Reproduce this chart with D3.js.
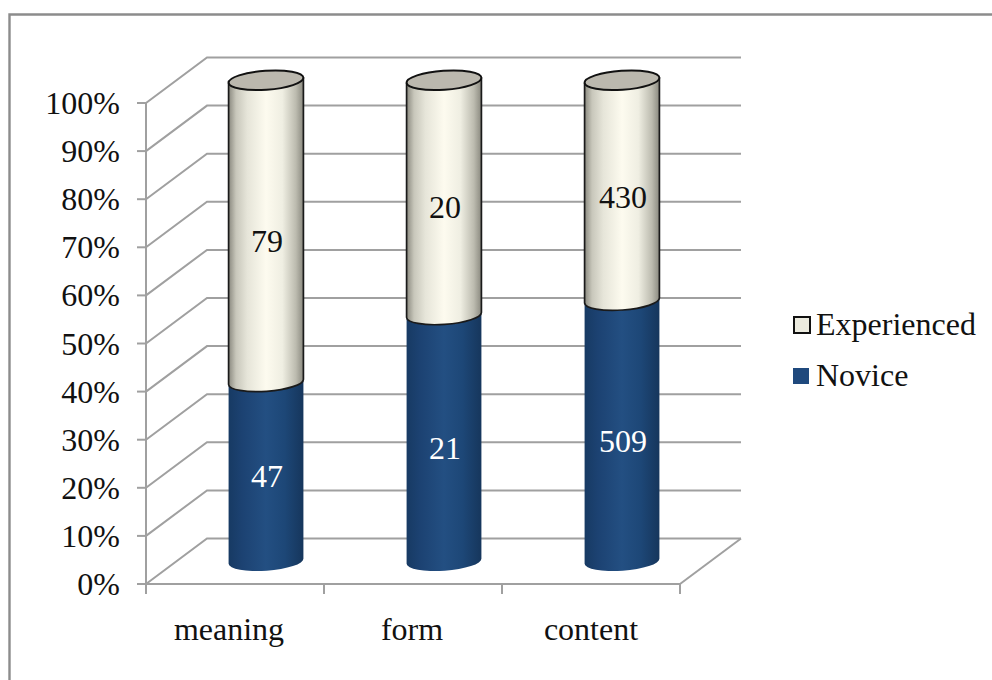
<!DOCTYPE html>
<html>
<head>
<meta charset="utf-8">
<script src="https://cdn.jsdelivr.net/npm/d3@7"></script>
<style>
  html, body { margin: 0; padding: 0; background: #fff; }
  svg { display: block; }
  text { font-family: "Liberation Serif", serif; }
</style>
</head>
<body>
<div id="chart"></div>
<script>
const categories = ["meaning", "form", "content"];
const seriesNames = ["Novice", "Experienced"];
const novice = [47, 21, 509];
const experienced = [79, 20, 430];
const percentTicks = d3.range(0, 101, 10);

const width = 992, height = 680;
const fontSize = 32;
const svg = d3.select("#chart").append("svg")
  .attr("width", width).attr("height", height);

// Chart area border
svg.append("path")
  .attr("d", "M9.5 680V14.5H992")
  .attr("fill", "none").attr("stroke", "#8c8c8c").attr("stroke-width", 2.4);

// Projection of the 3D box: depth offset between the front plane and the back wall
const depthX = 61, depthY = -45.5;
const yFront = d3.scaleLinear().domain([0, 100]).range([584, 103]);
const xFront = d3.scaleBand().domain(categories).range([146, 680]);
const xLeft = xFront.range()[0], xRight = xFront.range()[1];

const grid = svg.append("g").attr("fill", "none")
  .attr("stroke", "#a0a0a0").attr("stroke-width", 2);

// Back wall gridlines with their slanted side-wall segments
percentTicks.forEach(t => {
  const y = yFront(t);
  grid.append("path")
    .attr("d", `M${xLeft} ${y}L${xLeft + depthX} ${y + depthY}H${xRight + depthX}`);
});
// Floor edges on the right and front
grid.append("path")
  .attr("d", `M${xRight} ${yFront(0)}L${xRight + depthX} ${yFront(0) + depthY}`);
grid.append("path").attr("d", `M${xLeft - 9} ${yFront(0)}H${xRight}`);
// Vertical axis with tick marks
grid.append("path").attr("d", `M${xLeft} ${yFront(0)}V${yFront(100)}`);
percentTicks.forEach(t => {
  grid.append("path").attr("d", `M${xLeft - 9} ${yFront(t)}H${xLeft}`);
});
// Category tick marks at the band edges
d3.range(categories.length + 1).forEach(i => {
  const x = xLeft + i * xFront.step();
  grid.append("path").attr("d", `M${x} ${yFront(0)}V594`);
});

// Axis labels
svg.append("g").selectAll("text").data(percentTicks).join("text")
  .attr("x", 120).attr("y", d => yFront(d) + 11)
  .attr("text-anchor", "end").attr("font-size", fontSize).attr("fill", "#111")
  .text(d => d + "%");

const categoryNudge = [-6, -1, 0];
svg.append("g").selectAll("text").data(categories).join("text")
  .attr("x", (d, i) => xFront(d) + xFront.bandwidth() / 2 + categoryNudge[i])
  .attr("y", 640)
  .attr("text-anchor", "middle").attr("font-size", fontSize).attr("fill", "#111")
  .text(d => d);

// Cylinder shading
const defs = svg.append("defs");
function shade(id, stops) {
  const g = defs.append("linearGradient").attr("id", id)
    .attr("x1", "0%").attr("x2", "100%").attr("y1", "0%").attr("y2", "0%");
  stops.forEach(([o, c]) => g.append("stop").attr("offset", o).attr("stop-color", c));
}
shade("blueBody", [["0%", "#173a63"], ["18%", "#1c4272"], ["50%", "#234f82"], ["75%", "#1d4777"], ["100%", "#16365c"]]);
shade("creamBody", [["0%", "#8a897f"], ["10%", "#c8c7bb"], ["25%", "#e6e5d9"], ["50%", "#fdfbef"], ["72%", "#efeee2"], ["90%", "#bcbbaf"], ["100%", "#8a897f"]]);

// Cylinders stand halfway into the box depth
const yBar = v => yFront(v) + depthY / 2;
const radiusX = 37.5, radiusY = 9.5, tilt = -4;
const noviceLabelNudge = [-6, -1, 0];
const experiencedLabelNudge = [-1, -1, -4];

// End points of a cylinder cross-section, and arc commands through its near side
function section(cx, cy) {
  const rad = tilt * Math.PI / 180;
  const dx = Math.cos(rad) * radiusX, dy = Math.sin(rad) * radiusX;
  return {
    left: [cx - dx, cy - dy],
    right: [cx + dx, cy + dy],
    toRight: `A${radiusX} ${radiusY} ${tilt} 0 0 ${cx + dx} ${cy + dy}`,
    toLeft: `A${radiusX} ${radiusY} ${tilt} 0 1 ${cx - dx} ${cy - dy}`
  };
}

categories.forEach((c, i) => {
  const share = novice[i] / (novice[i] + experienced[i]) * 100;
  const cx = xFront(c) + xFront.bandwidth() / 2 + depthX / 2 + 0.5;
  const yTop = yBar(100);
  const b = section(cx, yBar(0)), m = section(cx, yBar(share)), t = section(cx, yTop);

  // Novice segment
  svg.append("path")
    .attr("d", `M${m.left}L${b.left}${b.toRight}L${m.right}${m.toLeft}Z`)
    .attr("fill", "url(#blueBody)");

  // Experienced segment
  svg.append("path")
    .attr("d", `M${t.left}L${m.left}${m.toRight}L${t.right}${t.toLeft}Z`)
    .attr("fill", "url(#creamBody)");

  // Outline of the experienced segment, including its lower rim
  svg.append("path")
    .attr("d", `M${t.left}L${m.left}${m.toRight}L${t.right}`)
    .attr("fill", "none").attr("stroke", "#1a1a1a").attr("stroke-width", 1.7);

  // Top cap
  svg.append("ellipse")
    .attr("cx", cx).attr("cy", yTop).attr("rx", radiusX).attr("ry", radiusY)
    .attr("transform", `rotate(${tilt} ${cx} ${yTop})`)
    .attr("fill", "#bbb8ae").attr("stroke", "#111").attr("stroke-width", 2);

  // Value labels
  svg.append("text").attr("x", cx + 1).attr("y", yBar(share / 2) + 21.5 + noviceLabelNudge[i])
    .attr("text-anchor", "middle").attr("font-size", fontSize).attr("fill", "#fff")
    .text(novice[i]);
  svg.append("text").attr("x", cx + 1).attr("y", yBar((share + 100) / 2) + 21.5 + experiencedLabelNudge[i])
    .attr("text-anchor", "middle").attr("font-size", fontSize).attr("fill", "#111")
    .text(experienced[i]);
});

// Legend
const legend = svg.append("g");
legend.append("rect").attr("x", 794).attr("y", 317).attr("width", 16).attr("height", 16)
  .attr("fill", "#ecebdf").attr("stroke", "#111").attr("stroke-width", 2);
legend.append("rect").attr("x", 793).attr("y", 368).attr("width", 16).attr("height", 16)
  .attr("fill", "#1f497d");
legend.append("text").attr("x", 816).attr("y", 335).attr("font-size", fontSize).attr("fill", "#111").text(seriesNames[1]);
legend.append("text").attr("x", 816).attr("y", 386).attr("font-size", fontSize).attr("fill", "#111").text(seriesNames[0]);
</script>
</body>
</html>
